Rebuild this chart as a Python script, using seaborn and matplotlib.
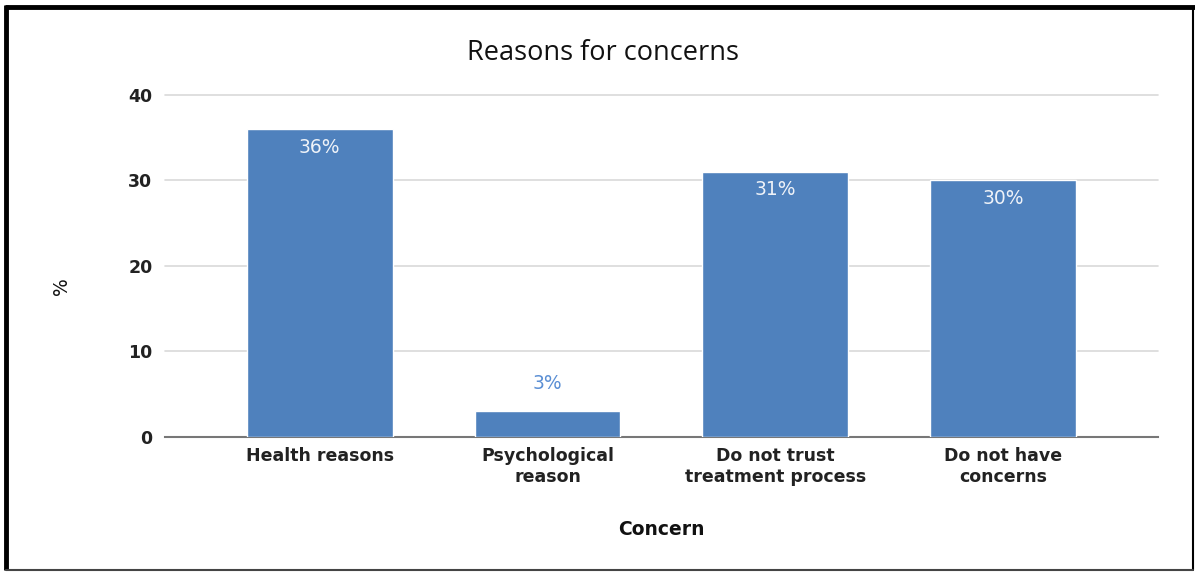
import matplotlib
matplotlib.use("Agg")
import matplotlib.pyplot as plt
import seaborn as sns
import pandas as pd
from matplotlib.lines import Line2D

categories = ["Health reasons", "Psychological\nreason", "Do not trust\ntreatment process", "Do not have\nconcerns"]
values = [36, 3, 31, 30]
value_labels = ["36%", "3%", "31%", "30%"]
y_ticks = [0, 10, 20, 30, 40]

sns.set_theme(style="white")
plt.rcParams['font.family'] = ['DejaVu Sans']

df = pd.DataFrame({"Concern": categories, "pct": values})

fig = plt.figure(figsize=(11.95, 5.72), dpi=100)
ax = fig.add_axes([0.138, 0.236, 0.831, 0.598])
bar_color = "#4F81BD"
sns.barplot(data=df, x="Concern", y="pct", color=bar_color, width=0.64,
            saturation=1, ax=ax, zorder=3)

ax.set_ylim(0, 40)
ax.set_xlim(-0.68, 3.68)
ax.set_yticks(y_ticks)
ax.set_yticklabels([str(t) for t in y_ticks], fontsize=12.5, color="#222222")
ax.tick_params(axis="x", labelsize=12.5, colors="#222222", length=0, pad=7)
ax.tick_params(axis="y", length=0, pad=9)
ax.yaxis.grid(True, color="#D9D9D9", linewidth=1.2, zorder=0)
for gl in ax.get_ygridlines():
    gl.set_clip_on(False)
ax.set_axisbelow(True)
for s in ["left", "right", "top"]:
    ax.spines[s].set_visible(False)
ax.spines["bottom"].set_color("#777777")
ax.spines["bottom"].set_linewidth(1.5)

for lbl in ax.get_xticklabels():
    lbl.set_fontweight("semibold")
for lbl in ax.get_yticklabels():
    lbl.set_fontweight("semibold")

for i, (v, t) in enumerate(zip(values, value_labels)):
    if v > 10:
        ax.text(i, v - 1.0, t, ha="center", va="top", color="#EEF2F8",
                fontsize=13.5)
    else:
        ax.text(i, v + 2.2, t, ha="center", va="bottom", color="#5B8FD4",
                fontsize=13.5)

ax.set_xlabel("Concern", fontsize=13.5, fontweight="bold", color="#111111", labelpad=25)
ax.set_ylabel("%", fontsize=13.5, color="#111111")
ax.yaxis.set_label_coords(-0.104, 0.44)
ax.yaxis.label.set_va("center")
ax.yaxis.label.set_ha("center")
fig.text(0.505, 0.907, "Reasons for concerns", ha="center", va="center",
         fontsize=19.5, color="#111111", family="Open Sans")

# frame border
W, H = 1195.0, 572.0
fig.add_artist(Line2D([6.5 / W, 6.5 / W], [1 - 570 / H, 1 - 5 / H], transform=fig.transFigure, color="black", lw=3.5, solid_capstyle="butt"))
fig.add_artist(Line2D([4.5 / W, 1.0], [1 - 7 / H, 1 - 7 / H], transform=fig.transFigure, color="black", lw=3.5, solid_capstyle="butt"))
fig.add_artist(Line2D([1193 / W, 1193 / W], [1 - 570 / H, 1 - 7 / H], transform=fig.transFigure, color="black", lw=1.5))
fig.add_artist(Line2D([6.5 / W, 1193 / W], [1 - 570 / H, 1 - 570 / H], transform=fig.transFigure, color="#444444", lw=1.5))

fig.savefig("out.png", dpi=100)
